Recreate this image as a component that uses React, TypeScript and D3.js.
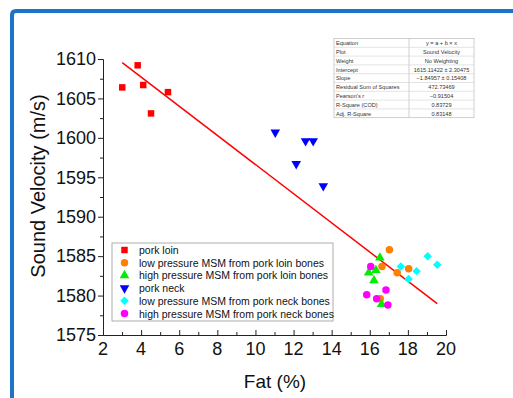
import { useEffect, useRef } from "react";
import * as d3 from "d3";

// Fat (%) and sound velocity (m/s) per sample group
const porkLoinFat = [3.01, 3.82, 4.11, 4.52, 5.41];
const porkLoinVel = [1606.4, 1609.2, 1606.7, 1603.1, 1605.8];

const lpLoinFat = [17.03, 16.64, 17.44, 18.04, 16.55];
const lpLoinVel = [1585.8, 1583.7, 1582.9, 1583.4, 1579.6];

const hpLoinFat = [16.53, 15.94, 16.32, 16.22, 16.62];
const hpLoinVel = [1584.8, 1582.9, 1583.2, 1581.9, 1578.9];

const porkNeckFat = [11.04, 12.63, 13.03, 12.14, 13.56];
const porkNeckVel = [1600.7, 1599.6, 1599.6, 1596.7, 1593.9];

const lpNeckFat = [17.63, 18.46, 18.04, 19.04, 19.54];
const lpNeckVel = [1583.7, 1583.1, 1582.1, 1585.0, 1583.9];

const hpNeckFat = [16.05, 15.84, 16.36, 16.85, 16.95];
const hpNeckVel = [1583.7, 1580.1, 1579.6, 1580.7, 1578.8];

const seriesNames = [
  "pork loin",
  "low pressure MSM from pork loin bones",
  "high pressure MSM from pork loin bones",
  "pork neck",
  "low pressure MSM from pork neck bones",
  "high pressure MSM from pork neck bones",
];
const seriesColors = ["#ff0000", "#ff8000", "#00ee00", "#0000ff", "#00ffff", "#ff00ff"];

const xTicks = [2, 4, 6, 8, 10, 12, 14, 16, 18, 20];
const yTicks = [1575, 1580, 1585, 1590, 1595, 1600, 1605, 1610];

// linear fit results
const intercept = 1615.11422;
const slope = -1.84957;
const fitRows = [
  ["Equation", "y = a + b \u00d7 x"],
  ["Plot", "Sound Velocity"],
  ["Weight", "No Weighting"],
  ["Intercept", "1615.11422 \u00b1 2.30475"],
  ["Slope", "\u22121.84957 \u00b1 0.15408"],
  ["Residual Sum of Squares", "472.73469"],
  ["Pearson's r", "\u22120.91504"],
  ["R-Square (COD)", "0.83729"],
  ["Adj. R-Square", "0.83148"],
];

export default function App() {
  const ref = useRef<SVGSVGElement>(null);

  useEffect(() => {
    const svg = d3.select(ref.current);
    svg.selectAll("*").remove();
    const font = "'Liberation Sans', Arial, sans-serif";

    // blue frame
    svg.append("path")
      .attr("d", "M12,398 L12,15 Q12,11 16,11 L520,11")
      .attr("fill", "none")
      .attr("stroke", "#1b74c9")
      .attr("stroke-width", 4);

    const x = d3.scaleLinear().domain([2, 20]).range([103, 446]);
    const y = d3.scaleLinear().domain([1575, 1610]).range([335, 59]);

    const g = svg.append("g").attr("font-family", font);

    // y axis (ticks outside), minor ticks in own group
    const yMinor = g.append("g").attr("transform", `translate(${x(2)},0)`);
    yMinor.call(d3.axisLeft(y).tickValues(yTicks.slice(0, -1).map(v => v + 2.5)).tickSize(3).tickFormat(() => "").tickSizeOuter(0));
    const yAxis = g.append("g").attr("transform", `translate(${x(2)},0)`);
    yAxis.call(d3.axisLeft(y).tickValues(yTicks).tickSize(5).tickSizeOuter(0).tickPadding(2).tickFormat(d3.format("d")));
    yAxis.selectAll("text").attr("font-size", 18).attr("fill", "#111").attr("font-family", font);

    // x axis (ticks inside)
    const xMinor = g.append("g").attr("transform", `translate(0,${y(1575)})`);
    xMinor.call(d3.axisTop(x).tickValues(xTicks.slice(0, -1).map(v => v + 1)).tickSize(3).tickSizeOuter(0).tickFormat(() => ""));
    const xAxis = g.append("g").attr("transform", `translate(0,${y(1575)})`);
    xAxis.call(d3.axisTop(x).tickValues(xTicks).tickSize(5).tickSizeOuter(0).tickFormat(() => ""));
    g.selectAll("path.domain, .tick line").attr("stroke", "#222");
    g.append("g").selectAll("text").data(xTicks).join("text")
      .attr("x", d => x(d)).attr("y", y(1575) + 20)
      .attr("text-anchor", "middle").attr("font-size", 18).attr("fill", "#111")
      .text(d => d);

    // axis titles
    g.append("text")
      .attr("x", 275).attr("y", 388)
      .attr("text-anchor", "middle").attr("font-size", 19).attr("fill", "#111")
      .text("Fat (%)");
    g.append("text")
      .attr("transform", `translate(45,186) rotate(-90)`)
      .attr("text-anchor", "middle").attr("font-size", 20).attr("fill", "#111")
      .text("Sound Velocity (m/s)");

    // fit line across the data range
    const allFat = [...porkLoinFat, ...lpLoinFat, ...hpLoinFat, ...porkNeckFat, ...lpNeckFat, ...hpNeckFat];
    const [fMin, fMax] = d3.extent(allFat) as [number, number];
    g.append("line")
      .attr("x1", x(fMin)).attr("y1", y(intercept + slope * fMin))
      .attr("x2", x(fMax)).attr("y2", y(intercept + slope * fMax))
      .attr("stroke", "#ff0000").attr("stroke-width", 1.5);

    const symbols = [
      d3.symbol(d3.symbolSquare, 42),
      d3.symbol(d3.symbolCircle, 44),
      d3.symbol(d3.symbolTriangle, 40),
      d3.symbol(d3.symbolTriangle, 40),
      d3.symbol(d3.symbolSquare, 36),
      d3.symbol(d3.symbolCircle, 44),
    ];
    const rotations = [0, 0, 0, 180, 45, 0];
    const series = [
      [porkLoinFat, porkLoinVel],
      [lpLoinFat, lpLoinVel],
      [hpLoinFat, hpLoinVel],
      [porkNeckFat, porkNeckVel],
      [lpNeckFat, lpNeckVel],
      [hpNeckFat, hpNeckVel],
    ];

    series.forEach(([fx, vy], i) => {
      g.append("g").selectAll("path").data(fx).join("path")
        .attr("d", symbols[i]() as string)
        .attr("transform", (d, j) => `translate(${x(d)},${y(vy[j])}) rotate(${rotations[i]})`)
        .attr("fill", seriesColors[i]);
    });

    // legend
    const lg = g.append("g");
    lg.append("rect")
      .attr("x", 112).attr("y", 243).attr("width", 221).attr("height", 78)
      .attr("fill", "white").attr("stroke", "#999").attr("stroke-width", 0.8);
    seriesNames.forEach((name, i) => {
      const ly = 250 + i * 12.7;
      lg.append("path")
        .attr("d", symbols[i]() as string)
        .attr("transform", `translate(124.5,${ly}) rotate(${rotations[i]})`)
        .attr("fill", seriesColors[i]);
      lg.append("text")
        .attr("x", 139).attr("y", ly + 4)
        .attr("font-size", 10.5).attr("fill", "#111")
        .text(name);
    });

    // fit table
    const tx0 = 334, tx1 = 409, tx2 = 474, ty0 = 38.5, rh = 8.8;
    const tbl = g.append("g");
    tbl.append("rect")
      .attr("x", tx0).attr("y", ty0).attr("width", tx2 - tx0).attr("height", rh * fitRows.length)
      .attr("fill", "white").attr("stroke", "#bbb").attr("stroke-width", 0.7);
    tbl.append("line")
      .attr("x1", tx1).attr("x2", tx1).attr("y1", ty0).attr("y2", ty0 + rh * fitRows.length)
      .attr("stroke", "#bbb").attr("stroke-width", 0.7);
    fitRows.forEach((row, i) => {
      if (i > 0) {
        tbl.append("line")
          .attr("x1", tx0).attr("x2", tx2).attr("y1", ty0 + i * rh).attr("y2", ty0 + i * rh)
          .attr("stroke", "#d0d0d0").attr("stroke-width", 0.6);
      }
      tbl.append("text")
        .attr("x", tx0 + 2).attr("y", ty0 + i * rh + 6.6)
        .attr("font-size", 5.6).attr("fill", "#333")
        .text(row[0]);
      tbl.append("text")
        .attr("x", (tx1 + tx2) / 2).attr("y", ty0 + i * rh + 6.6)
        .attr("text-anchor", "middle").attr("font-size", 5.6).attr("fill", "#333")
        .text(row[1]);
    });
  }, []);

  return (
    <svg ref={ref} width={513} height={398}
      style={{ position: "absolute", left: 0, top: 0, background: "white" }} />
  );
}
